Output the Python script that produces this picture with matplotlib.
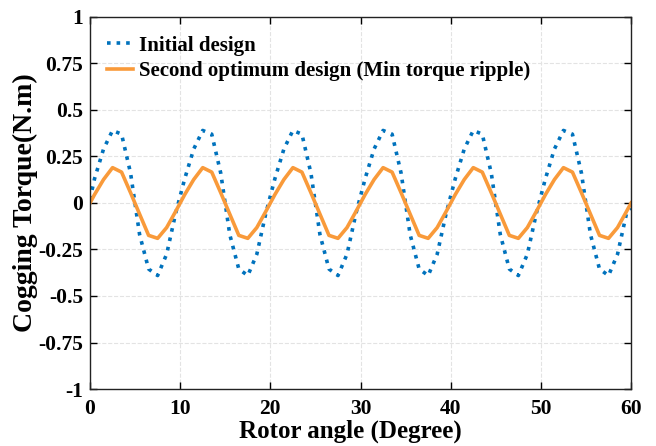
import matplotlib.pyplot as plt
import numpy as np

# === ROTOR ANGLE AND COGGING TORQUE ===
angle = np.concatenate([[0], np.arange(0.5, 60, 1.0), [60]])

initial = [
    0.02,
    0.13, 0.29, 0.39, 0.37, 0.16, -0.17, -0.355, -0.39, -0.275, -0.055,
    0.13, 0.29, 0.39, 0.37, 0.16, -0.17, -0.355, -0.39, -0.275, -0.055,
    0.13, 0.29, 0.39, 0.37, 0.16, -0.17, -0.355, -0.39, -0.275, -0.055,
    0.13, 0.29, 0.39, 0.37, 0.16, -0.17, -0.355, -0.39, -0.275, -0.055,
    0.13, 0.29, 0.39, 0.37, 0.16, -0.17, -0.355, -0.39, -0.275, -0.055,
    0.13, 0.29, 0.39, 0.37, 0.16, -0.17, -0.355, -0.39, -0.275, -0.055,
    -0.03,
]
second_opt = [
    0.0,
    0.045, 0.126, 0.19, 0.166, 0.055, -0.06, -0.174, -0.19, -0.132, -0.045,
    0.045, 0.126, 0.19, 0.166, 0.055, -0.06, -0.174, -0.19, -0.132, -0.045,
    0.045, 0.126, 0.19, 0.166, 0.055, -0.06, -0.174, -0.19, -0.132, -0.045,
    0.045, 0.126, 0.19, 0.166, 0.055, -0.06, -0.174, -0.19, -0.132, -0.045,
    0.045, 0.126, 0.19, 0.166, 0.055, -0.06, -0.174, -0.19, -0.132, -0.045,
    0.045, 0.126, 0.19, 0.166, 0.055, -0.06, -0.174, -0.19, -0.132, -0.045,
    0.0,
]

x_ticks = [0, 10, 20, 30, 40, 50, 60]
y_ticks = [-1, -0.75, -0.5, -0.25, 0, 0.25, 0.5, 0.75, 1]
y_tick_labels = ['-1', '-0.75', '-0.5', '-0.25', '0', '0.25', '0.5', '0.75', '1']

# === PLOT ===
plt.rcParams['font.family'] = ['Liberation Serif', 'DejaVu Serif']
plt.rcParams['font.weight'] = 'bold'

fig = plt.figure(figsize=(6.56, 4.46), dpi=100)
ax = fig.add_axes([0.1372, 0.1278, 0.8248, 0.8341])

ax.plot(angle, initial, linestyle=':', color='#0072BD', linewidth=2.6, label='Initial design')
ax.plot(angle, second_opt, linestyle='-', color='#F99A3A', linewidth=2.6,
        label='Second optimum design (Min torque ripple)')

ax.set_xlim(0, 60)
ax.set_ylim(-1, 1)
ax.set_xticks(x_ticks)
ax.set_yticks(y_ticks)
ax.set_yticklabels(y_tick_labels)
ax.tick_params(direction='in', top=True, right=True, length=5, width=1, labelsize=15.5)
ax.tick_params(axis='x', pad=7.5)
ax.tick_params(axis='y', pad=5)
for lbl in ax.get_xticklabels() + ax.get_yticklabels():
    lbl.set_fontweight('bold')

ax.set_axisbelow(True)
ax.grid(True, linestyle='--', linewidth=0.8, color='#e3e3e3')
for s in ax.spines.values():
    s.set_linewidth(1.0)
    s.set_color('#222222')

ax.set_xlabel('Rotor angle (Degree)', fontsize=18, fontweight='bold', labelpad=0)
ax.xaxis.label.set_x(0.482)
ax.set_ylabel('Cogging Torque(N.m)', fontsize=20, fontweight='bold', labelpad=0)

leg = ax.legend(loc='upper left', frameon=False, prop={'size': 15, 'weight': 'bold'},
                handlelength=1.25, handletextpad=0.3, borderaxespad=0, borderpad=0,
                labelspacing=0.25, bbox_to_anchor=(17 / 541, 0.95))

fig.savefig('out.png', dpi=100)
